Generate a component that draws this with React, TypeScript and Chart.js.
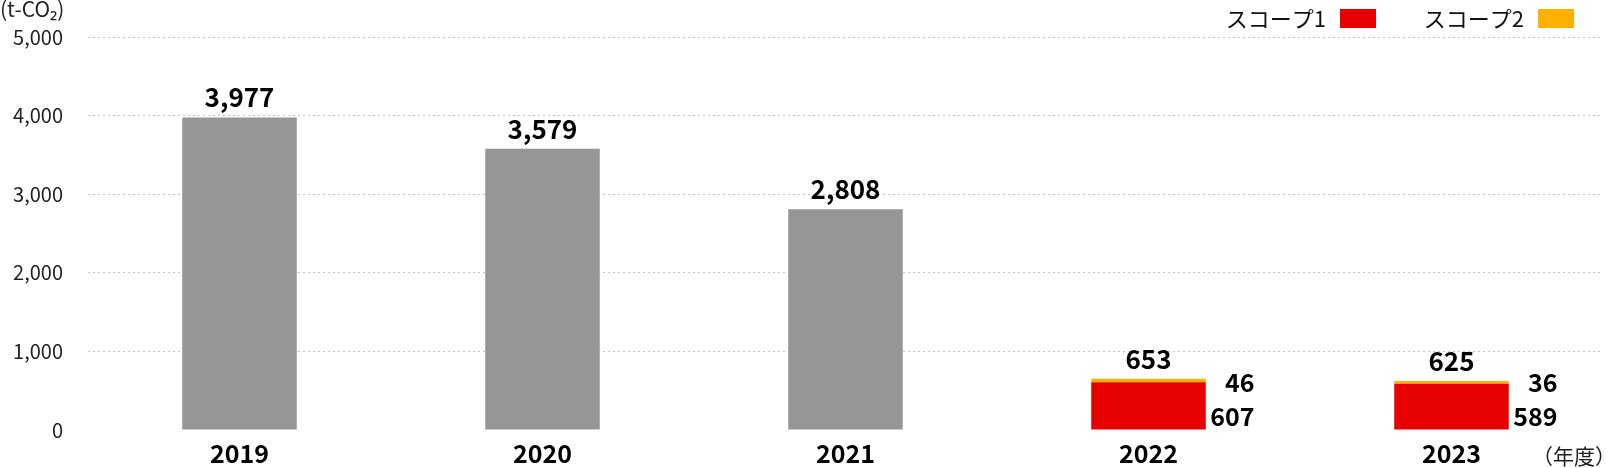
import React, { useEffect, useRef } from "react";
import { Chart, registerables } from "chart.js";

Chart.register(...registerables);

const categories = ["2019", "2020", "2021", "2022", "2023"];
const totalSeries = [3977, 3579, 2808, null, null];
const scope1Series = [null, null, null, 607, 589];
const scope2Series = [null, null, null, 46, 36];
const yTickValues = [0, 1000, 2000, 3000, 4000, 5000];
const legendLabels = ["スコープ1", "スコープ2"];
const unitLabel = "(t-CO₂)";
const yearUnitLabel = "（年度）";

const FONT = '"Noto Sans CJK JP", "Noto Sans", sans-serif';
const GRAY = "#969696";
const RED = "#e60000";
const ORANGE = "#ffb000";

const labelPlugin = {
  id: "customLabels",
  afterDatasetsDraw(chart: any) {
    const { ctx } = chart;
    const xs = chart.scales.x;
    const ys = chart.scales.y;
    ctx.save();
    // total labels
    ctx.fillStyle = "#000";
    ctx.font = `bold 26px ${FONT}`;
    ctx.textAlign = "center";
    ctx.textBaseline = "alphabetic";
    categories.forEach((_, i) => {
      const total =
        (totalSeries[i] ?? 0) + (scope1Series[i] ?? 0) + (scope2Series[i] ?? 0);
      const x = xs.getPixelForValue(i);
      const y = ys.getPixelForValue(total);
      ctx.fillText(total.toLocaleString("en-US"), x, y - 10);
    });
    // scope side labels
    ctx.textAlign = "right";
    ctx.textBaseline = "middle";
    ctx.font = `bold 25px ${FONT}`;
    const y0 = ys.getPixelForValue(0);
    categories.forEach((_, i) => {
      if (scope1Series[i] == null) return;
      const x = xs.getPixelForValue(i) + 106;
      ctx.fillText(String(scope1Series[i]), x, y0 - 14);
      ctx.fillText(String(scope2Series[i]), x, y0 - 48);
    });
    // legend
    ctx.font = `22px ${FONT}`;
    const W = chart.width;
    const items = [
      { text: legendLabels[0], color: RED, boxRight: W - 230 },
      { text: legendLabels[1], color: ORANGE, boxRight: W - 32 },
    ];
    items.forEach((it) => {
      const boxLeft = it.boxRight - 36;
      ctx.fillStyle = it.color;
      ctx.fillRect(boxLeft, 9, 36, 19);
      ctx.fillStyle = "#111";
      ctx.textAlign = "right";
      ctx.textBaseline = "middle";
      ctx.fillText(it.text, boxLeft - 14, 19);
    });
    // unit labels
    ctx.font = `21px ${FONT}`;
    ctx.textAlign = "left";
    ctx.textBaseline = "top";
    ctx.fillStyle = "#222";
    ctx.fillText(unitLabel, 0, -1);
    ctx.font = `21px ${FONT}`;
    ctx.textAlign = "right";
    ctx.textBaseline = "alphabetic";
    ctx.fillText(yearUnitLabel, W + 10, 464);
    ctx.restore();
  },
};

export default function App() {
  const canvasRef = useRef<HTMLCanvasElement | null>(null);

  useEffect(() => {
    document.body.style.margin = "0";
    const canvas = canvasRef.current;
    if (!canvas) return;
    const chart = new Chart(canvas, {
      type: "bar",
      data: {
        labels: categories,
        datasets: [
          { label: "合計", data: totalSeries as any, backgroundColor: GRAY },
          { label: legendLabels[0], data: scope1Series as any, backgroundColor: RED },
          { label: legendLabels[1], data: scope2Series as any, backgroundColor: ORANGE },
        ],
      },
      options: {
        responsive: false,
        animation: false,
        devicePixelRatio: 1,
        layout: { padding: { top: 36, right: 3, left: 0, bottom: 0 } },
        datasets: {
          bar: { barPercentage: 0.378, categoryPercentage: 1 },
        },
        plugins: {
          legend: { display: false },
          tooltip: { enabled: false },
        },
        scales: {
          x: {
            stacked: true,
            grid: { display: false },
            border: { display: false },
            ticks: {
              color: "#000",
              font: { family: FONT, size: 25, weight: "bold" },
              padding: 0,
              maxRotation: 0,
            },
            afterFit: (s: any) => {
              s.height = 38;
            },
          },
          y: {
            stacked: true,
            min: 0,
            max: 5000,
            afterBuildTicks: (s: any) => {
              s.ticks = yTickValues.map((v) => ({ value: v }));
            },
            ticks: {
              color: "#222",
              font: { family: FONT, size: 20 },
              padding: 25,
              callback: (v: any) => Number(v).toLocaleString("en-US"),
            },
            grid: {
              drawTicks: false,
              lineWidth: 1,
              color: (c: any) => (c.tick && c.tick.value === 0 ? "rgba(0,0,0,0)" : "#c4c4c4"),
            },
            border: { display: false, dash: [2, 3] },
            afterFit: (s: any) => {
              s.width = 88;
            },
          },
        },
      },
      plugins: [labelPlugin],
    });
    return () => chart.destroy();
  }, []);

  return (
    <div style={{ width: 1606, height: 468 }}>
      <canvas ref={canvasRef} width={1606} height={468} style={{ display: "block" }} />
    </div>
  );
}
